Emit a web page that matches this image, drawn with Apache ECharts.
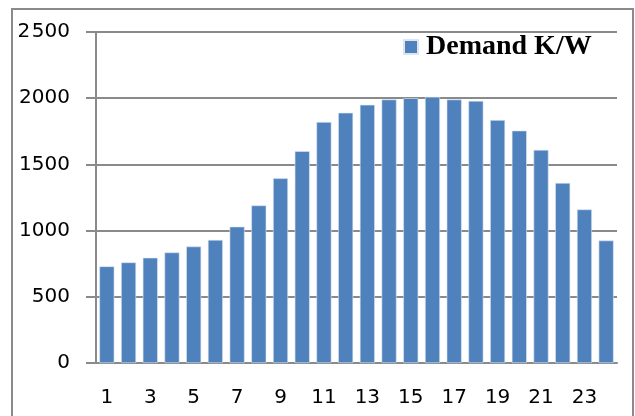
<!DOCTYPE html>
<html>
<head>
<meta charset="utf-8">
<script src="https://cdn.jsdelivr.net/npm/echarts@6/dist/echarts.min.js"></script>
<style>
  html, body { margin: 0; padding: 0; background: #fff; }
  #chart { width: 635px; height: 416px; }
</style>
</head>
<body>
<div id="chart"></div>
<script>
// Hourly demand profile
const hours = ['1','2','3','4','5','6','7','8','9','10','11','12','13','14','15','16','17','18','19','20','21','22','23','24'];
const demand = [730, 760, 795, 835, 880, 930, 1030, 1190, 1395, 1600, 1820, 1890, 1950, 1990, 2000, 2010, 1990, 1980, 1835, 1755, 1610, 1360, 1160, 925];
const yTicks = [0, 500, 1000, 1500, 2000, 2500];
// the top value carries a narrow thousands gap (drawn as a small-size space)
const yTickText = ['0', '500', '1000', '1500', '2000', '2{gap| }500'];
const seriesName = 'Demand K/W';

const chart = echarts.init(document.getElementById('chart'));
const gray = '#8a8a8a';
const labelFont = { fontFamily: 'DejaVu Sans', fontSize: 20, color: '#000' };

chart.setOption({
  animation: false,
  backgroundColor: '#fff',
  graphic: [{
    type: 'rect',
    shape: { x: 12, y: 9, width: 621, height: 420 },
    style: { fill: 'none', stroke: gray, lineWidth: 2 }
  }],
  legend: {
    data: [seriesName],
    left: 403,
    top: 33,
    padding: 0,
    icon: 'rect',
    itemWidth: 14,
    itemHeight: 14,
    textStyle: { fontFamily: 'Liberation Serif', fontWeight: 700, fontSize: 28, color: '#000', padding: [0, 0, 0, 3] }
  },
  grid: { left: 96, right: 18, top: 32, bottom: 53, containLabel: false },
  xAxis: {
    type: 'category',
    data: hours,
    axisLine: { lineStyle: { color: gray, width: 2 } },
    axisTick: { length: 8, lineStyle: { color: gray, width: 2 } },
    axisLabel: Object.assign({ interval: 1, margin: 25 }, labelFont),
    splitLine: { show: false }
  },
  yAxis: {
    type: 'value',
    min: yTicks[0],
    max: yTicks[yTicks.length - 1],
    interval: yTicks[1] - yTicks[0],
    axisLine: { show: true, lineStyle: { color: gray, width: 2 } },
    axisTick: { show: true, length: 10, lineStyle: { color: gray, width: 2 } },
    axisLabel: Object.assign({
      margin: 26,
      formatter: v => yTickText[yTicks.indexOf(v)],
      rich: { gap: { fontFamily: 'DejaVu Sans', fontSize: 5 } }
    }, labelFont),
    splitLine: { lineStyle: { color: gray, width: 2 } }
  },
  series: [{
    name: seriesName,
    type: 'bar',
    data: demand,
    barCategoryGap: '31%',
    itemStyle: { color: '#4F81BD', borderColor: '#DCE6F2', borderWidth: 0.6 }
  }]
});
</script>
</body>
</html>
